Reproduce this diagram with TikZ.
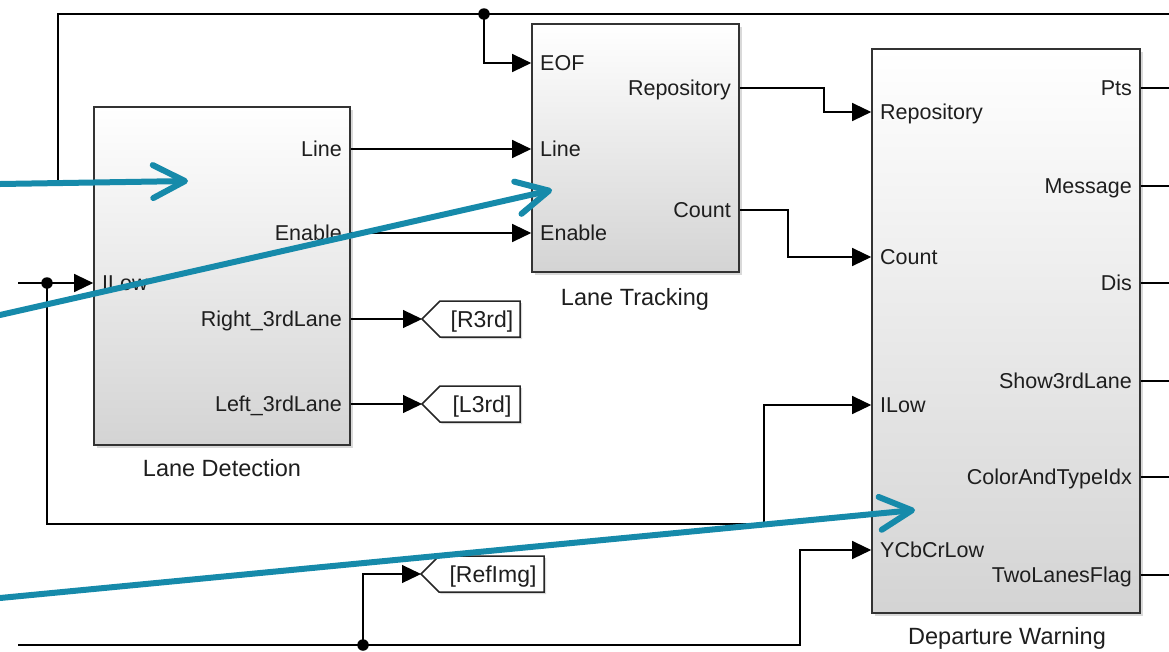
\documentclass[tikz,border=0pt]{standalone}
\usepackage{fontspec}
\setmainfont{Liberation Sans}
\usetikzlibrary{arrows.meta,shadows,calc}
\definecolor{hlteal}{RGB}{22,138,170}
\definecolor{txt}{RGB}{30,30,30}
\begin{document}
\begin{tikzpicture}[x=1pt,y=-1pt,
 block/.style={draw=black!80,line width=1.6pt,rectangle,inner sep=0pt,
   top color=white,middle color=black!2,bottom color=black!17,
   drop shadow={shadow xshift=2.5pt,shadow yshift=-2.5pt,opacity=0.3}},
 plab/.style={font=\fontsize{21.5}{24}\selectfont,text=txt,inner sep=0pt,yshift=-7.5pt},
 tlab/.style={font=\fontsize{23.5}{26}\selectfont,text=txt,inner sep=0pt,yshift=-8.3pt,anchor=base},
 glab/.style={font=\fontsize{23}{26}\selectfont,text=txt,inner sep=0pt,yshift=-8.2pt,anchor=base},
 sig/.style={draw=black,line width=1.2pt},
 arr/.style={sig,-{Triangle[length=19pt,width=18pt]}},
 jdot/.style={circle,fill=black,inner sep=0pt,minimum size=11.5pt},
 tagbox/.style={draw=black!85,line width=1.5pt,fill=white,
   drop shadow={shadow xshift=2pt,shadow yshift=-2pt,opacity=0.3}},
 hl/.style={draw=hlteal,line width=6pt,line cap=round,
   -{Straight Barb[length=32pt,width=33pt,round]}}
]
\useasboundingbox (0,0) rectangle (1169,651);

% blocks
\node[block,minimum width=256pt,minimum height=338pt] (LD) at (222,276) {};
\node[block,minimum width=207pt,minimum height=248pt] (LT) at (635.5,148) {};
\node[block,minimum width=268pt,minimum height=564pt] (DW) at (1006,331) {};

% block titles
\node[tlab] (LDt) at (222,468) {Lane Detection};
\node[tlab] (LTt) at (635,297) {Lane Tracking};
\node[tlab] (DWt) at (1007,636) {Departure Warning};

% port labels: Lane Detection
\node[plab,anchor=base west] (LDi1) at (102,283) {ILow};
\node[plab,anchor=base east] (LDo1) at (342,149) {Line};
\node[plab,anchor=base east] (LDo2) at (342,233) {Enable};
\node[plab,anchor=base east] (LDo3) at (342,319) {Right\_3rdLane};
\node[plab,anchor=base east] (LDo4) at (342,404) {Left\_3rdLane};
% Lane Tracking
\node[plab,anchor=base west] (LTi1) at (540,63) {EOF};
\node[plab,anchor=base west] (LTi2) at (540,149) {Line};
\node[plab,anchor=base west] (LTi3) at (540,233) {Enable};
\node[plab,anchor=base east] (LTo1) at (731,88) {Repository};
\node[plab,anchor=base east] (LTo2) at (731,210) {Count};
% Departure Warning
\node[plab,anchor=base west] (DWi1) at (880,112) {Repository};
\node[plab,anchor=base west] (DWi2) at (880,257) {Count};
\node[plab,anchor=base west] (DWi3) at (880,405) {ILow};
\node[plab,anchor=base west] (DWi4) at (880,550) {YCbCrLow};
\node[plab,anchor=base east] (DWo1) at (1132,88) {Pts};
\node[plab,anchor=base east] (DWo2) at (1132,186) {Message};
\node[plab,anchor=base east] (DWo3) at (1132,283) {Dis};
\node[plab,anchor=base east] (DWo4) at (1132,381) {Show3rdLane};
\node[plab,anchor=base east] (DWo5) at (1132,477) {ColorAndTypeIdx};
\node[plab,anchor=base east] (DWo6) at (1132,575) {TwoLanesFlag};

% goto tags
\coordinate (R3tip) at (422,319);
\coordinate (L3tip) at (422,404);
\coordinate (RItip) at (421,574);
\draw[tagbox] (R3tip) -- ++(18,-18) -- ++(80,0) -- ++(0,36) -- ++(-80,0) -- cycle;
\draw[tagbox] (L3tip) -- ++(18,-18) -- ++(80,0) -- ++(0,36) -- ++(-80,0) -- cycle;
\draw[tagbox] (RItip) -- ++(18,-18) -- ++(105,0) -- ++(0,36) -- ++(-105,0) -- cycle;
\node[glab] (R3t) at (482,319) {[R3rd]};
\node[glab] (L3t) at (482,404) {[L3rd]};
\node[glab] (RIt) at (493,574) {[RefImg]};

% junctions
\node[jdot] (J1) at (484,14) {};
\node[jdot] (J2) at (47,283) {};
\node[jdot] (J3) at (363,645) {};

% free ends
\coordinate (topL) at (58,181);
\coordinate (topR) at (1169,14);
\coordinate (inL) at (18,283);
\coordinate (botL) at (18,645);

% signal lines
\draw[sig] (topL) |- (topR);
\draw[arr] (J1.center) |- (LT.west |- 0,63);
\draw[arr] (LD.east |- 0,149) -- (LT.west |- 0,149);
\draw[arr] (LD.east |- 0,233) -- (LT.west |- 0,233);
\draw[arr] (inL) -- (LD.west |- 0,283);
\draw[arr] (J2.center) |- (764,524) |- (DW.west |- 0,405);
\draw[arr] (LD.east |- R3tip) -- (R3tip);
\draw[arr] (LD.east |- L3tip) -- (L3tip);
\draw[arr] (LT.east |- 0,88) -| (824,112) -- (DW.west |- 0,112);
\draw[arr] (LT.east |- 0,210) -| (788,257) -- (DW.west |- 0,257);
\draw[arr] (botL) -| (800,550) -- (DW.west |- 0,550);
\draw[arr] (J3.center) |- (RItip);
\foreach \yy [count=\i] in {88,186,283,381,477,575}{
  \coordinate (out\i) at (1169,\yy);
  \draw[sig] (DW.east |- out\i) -- (out\i);
}

% highlight arrows
\coordinate (h1s) at (0,184);
\coordinate (h1e) at (188,181);
\coordinate (h2s) at (0,315);
\coordinate (h2e) at (552,190);
\coordinate (h3s) at (0,598);
\coordinate (h3e) at (915,510);
\draw[hl] (h1s) -- (h1e);
\draw[hl] (h2s) -- (h2e);
\draw[hl] (h3s) -- (h3e);
\end{tikzpicture}
\end{document}
